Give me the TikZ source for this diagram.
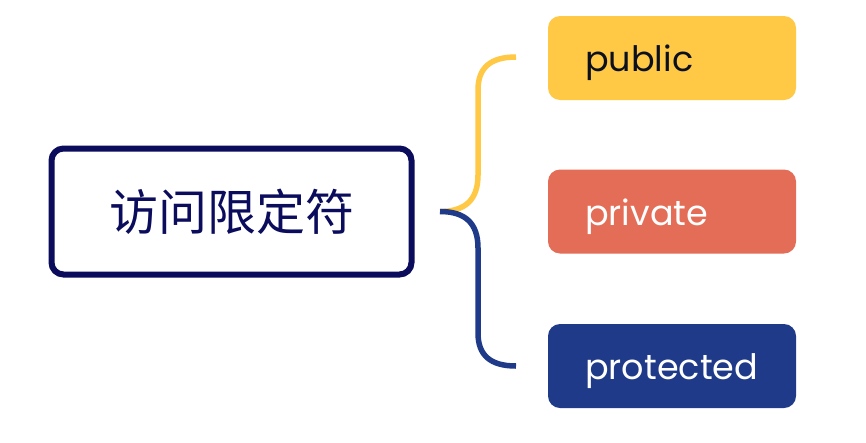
\documentclass[tikz,border=0pt]{standalone}
\usepackage{fontspec}
\setmainfont{Poppins}
\newfontfamily\cjk{Noto Sans CJK SC}
\definecolor{rootc}{HTML}{0B0C5C}
\definecolor{yel}{HTML}{FFC845}
\definecolor{sal}{HTML}{E46D57}
\definecolor{nav}{HTML}{1F3A88}
\definecolor{txtd}{HTML}{0A1020}
\begin{document}
\begin{tikzpicture}[x=1pt,y=-1pt,
  leaf/.style={rounded corners=12pt, minimum width=248pt, minimum height=84pt, inner sep=0pt},
  lbl/.style={anchor=base west, font=\fontsize{35}{40}\selectfont, inner sep=0pt},
  brace/.style={line width=5.5pt}]
\useasboundingbox (0,0) rectangle (866,442);
\node[draw=rootc, line width=6pt, rounded corners=12pt, fill=white, minimum width=360pt, minimum height=126pt, inner sep=0pt] (root) at (231.5,211.5) {};
\node[text=rootc, font=\cjk\fontsize{49}{54}\selectfont] (roott) at (232,212) {访问限定符};
\node[leaf, fill=yel] (pub) at (672,58) {};
\node[leaf, fill=sal] (pri) at (672,211.5) {};
\node[leaf, fill=nav] (pro) at (672,366) {};
\node[lbl, text=txtd] (pubt) at (585,71) {public};
\node[lbl, text=white] (prit) at (585,225) {private};
\node[lbl, text=white] (prot) at (585,379) {protected};
\coordinate (s) at (440,211.5);
\coordinate (e1) at (516,57);
\coordinate (e2) at (516,366);
\draw[brace, yel] (s) .. controls (465,211.5) and (478,200) .. (478,175) -- (478,90) .. controls (478,68) and (490,57) .. (e1);
\draw[brace, nav] (s) .. controls (465,211.5) and (478,223) .. (478,248) -- (478,333) .. controls (478,355) and (490,366) .. (e2);
\end{tikzpicture}
\end{document}
